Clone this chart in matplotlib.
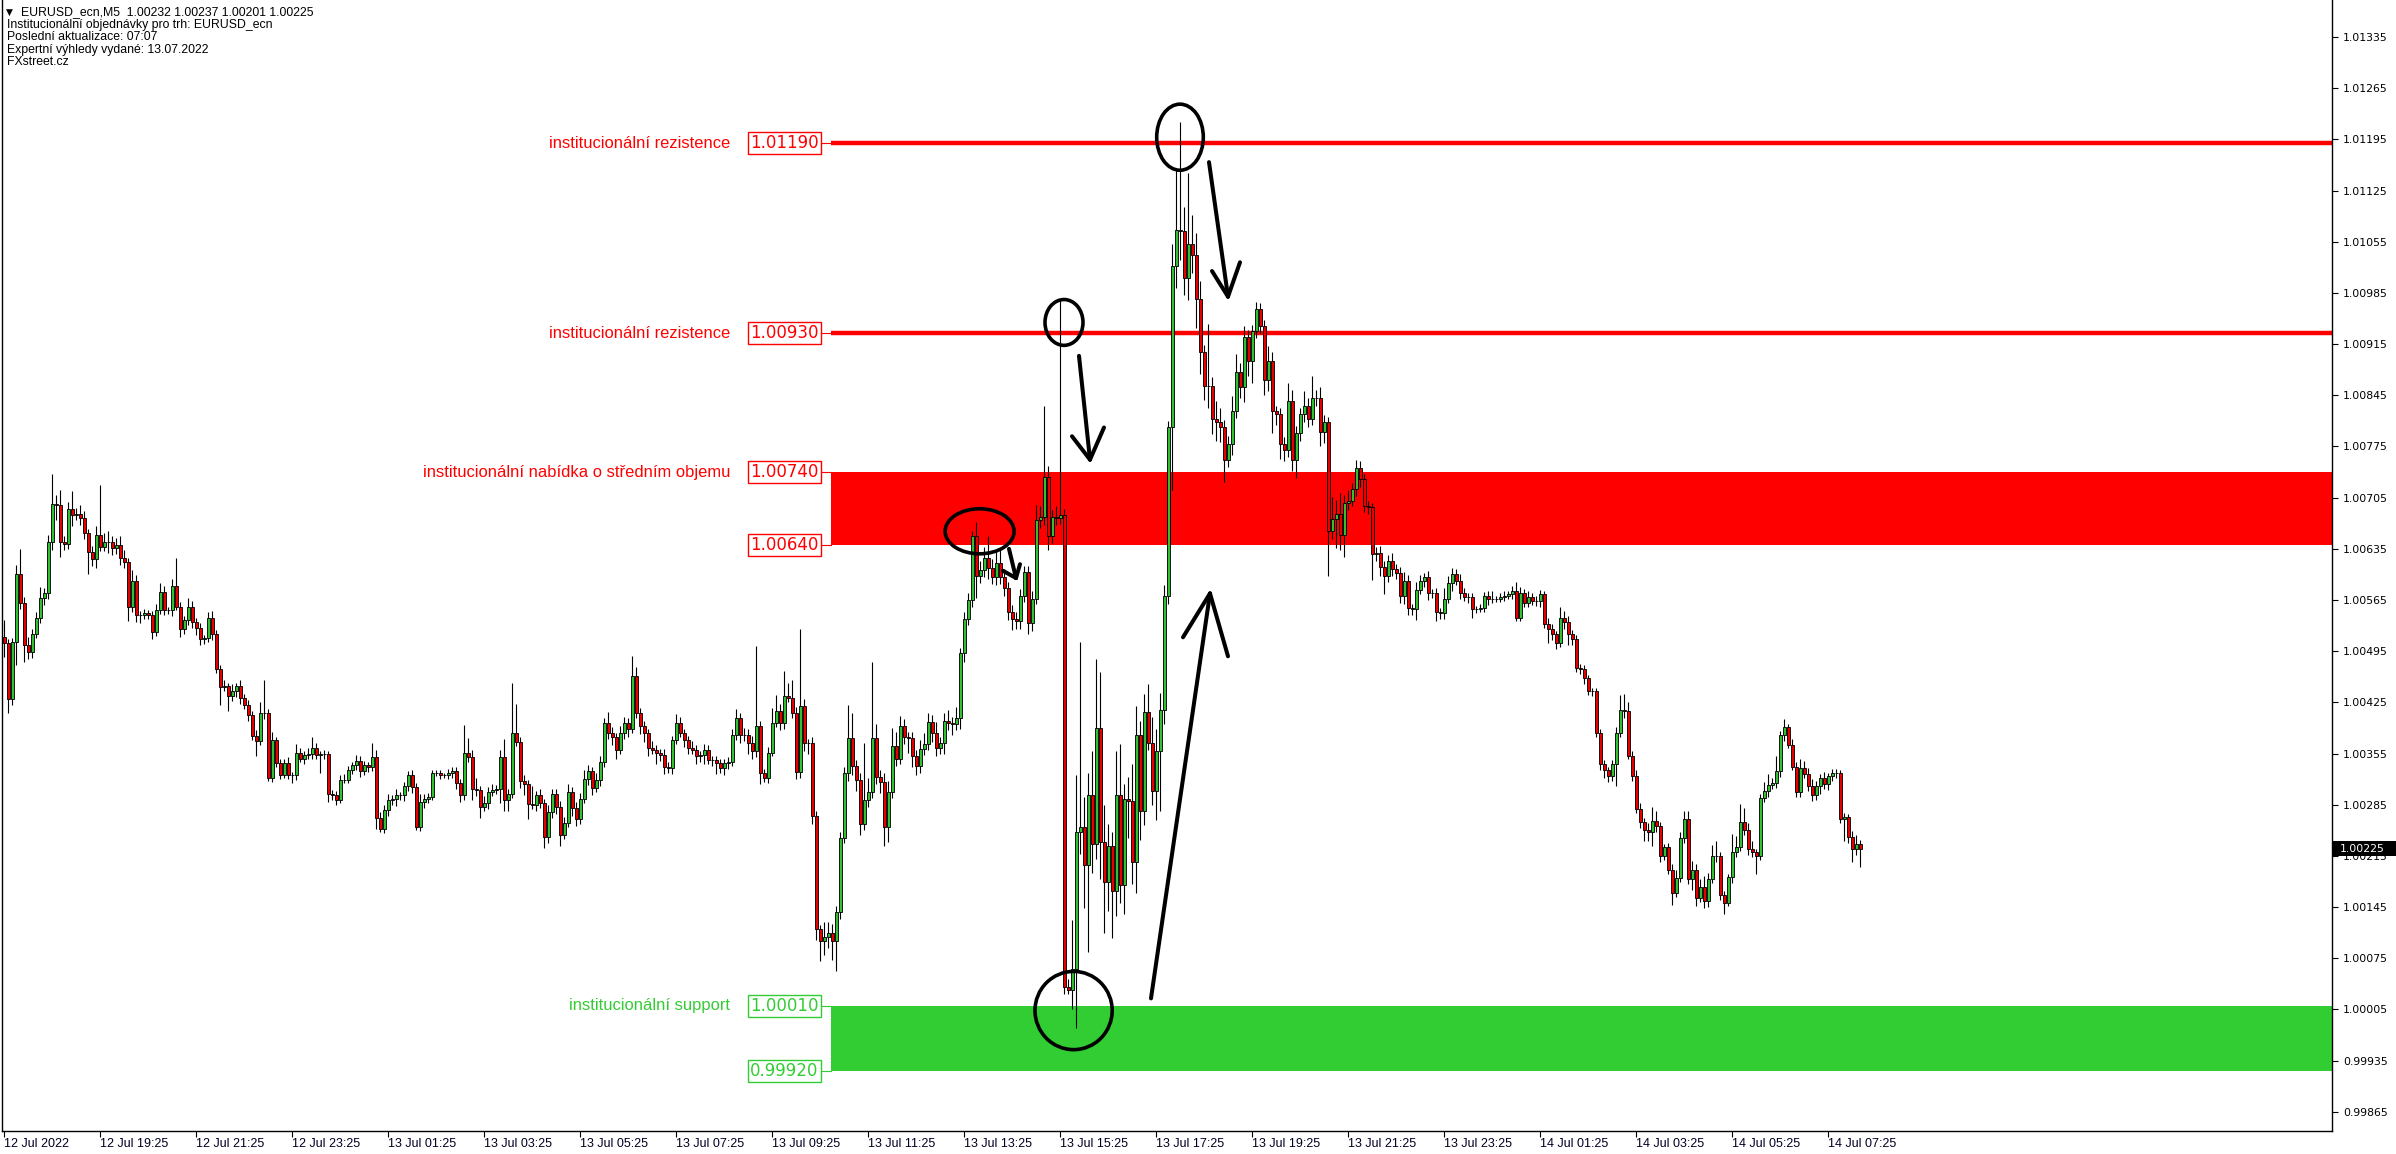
import matplotlib
matplotlib.use('Agg')
import matplotlib.pyplot as plt
import matplotlib.transforms as mtransforms
from matplotlib.patches import Ellipse, Rectangle
import numpy as np

# ---------------- data (prices in points = 1e-5 above 1.00000) ----------------
first_open = 515
close_pts = [
    506,430,507,601,561,504,494,519,540,568,575,644,696,695,644,641,689,681,683,677,656,631,621,654,638,
    644,645,636,640,623,617,556,591,545,545,547,544,521,552,576,551,551,584,556,526,537,556,535,527,511,
    513,540,518,470,446,447,433,440,447,431,422,408,379,372,411,410,322,373,342,326,342,325,325,356,348,
    353,354,363,353,354,354,300,298,292,319,319,332,339,345,331,339,336,350,267,252,278,291,293,298,298,
    310,325,309,255,289,293,296,328,328,325,325,328,331,314,298,356,350,307,305,282,287,303,305,307,350,
    292,299,383,371,318,313,286,284,298,287,241,275,300,282,243,260,303,280,266,293,320,331,308,319,344,
    397,383,377,360,383,397,388,461,411,392,383,362,360,356,353,337,335,374,397,383,374,362,360,351,353,
    360,346,346,342,335,342,344,380,404,380,380,369,358,392,328,322,356,397,413,397,433,431,411,330,420,
    369,369,269,115,99,104,110,98,138,240,328,376,338,319,258,292,302,376,323,316,254,302,365,348,392,
    378,376,352,338,361,368,398,383,362,370,399,397,395,404,492,539,565,652,598,606,623,609,597,616,597,
    582,548,539,536,570,603,533,567,675,678,733,653,678,677,681,35,32,60,247,255,203,298,231,390,234,
    179,228,167,298,175,293,290,206,380,277,412,370,304,359,415,570,802,1022,1071,1070,1006,1052,1037,977,904,
    858,858,812,808,801,757,778,824,877,856,925,892,933,963,940,866,892,824,819,778,770,837,757,793,819,
    831,812,841,842,795,808,659,676,682,654,698,701,717,745,730,693,692,628,629,610,598,619,608,602,571,
    591,554,553,579,591,596,575,574,548,547,567,588,601,591,574,569,569,553,553,554,570,566,566,567,569,
    571,573,578,541,575,561,569,563,564,573,532,526,518,506,540,535,519,511,472,470,458,440,440,383,341,
    333,324,340,383,415,413,352,324,279,261,250,247,262,256,215,227,196,164,185,240,266,183,196,157,172,
    153,183,215,215,161,151,186,220,227,261,250,224,220,215,294,304,312,314,331,380,391,367,337,302,335,
    327,310,298,310,322,313,324,328,329,265,268,241,224,231,225,
]
upper_wick = [
    23,5,6,12,34,8,10,6,8,15,6,10,41,12,20,8,10,25,8,12,10,6,8,12,68,
    12,15,8,10,12,10,6,15,8,5,6,4,6,8,12,8,4,10,38,6,6,12,8,5,6,
    4,8,10,6,6,8,5,10,5,8,5,6,5,8,15,45,6,12,5,6,6,8,5,12,6,
    5,8,15,6,5,6,4,5,6,6,8,6,5,8,6,6,5,20,10,8,6,8,5,8,4,
    6,6,8,6,10,6,5,5,4,5,4,6,5,6,6,38,20,10,15,5,10,6,8,5,10,
    25,8,68,40,6,8,6,25,6,8,6,10,6,6,8,8,10,6,8,8,12,8,6,10,8,
    6,15,8,6,10,8,6,28,12,6,8,6,10,6,5,8,6,5,12,8,6,5,10,6,5,
    8,6,5,5,6,5,6,8,12,6,10,8,10,110,8,6,8,20,22,10,35,18,25,8,105,
    10,6,8,8,6,20,15,12,8,8,8,45,35,8,10,77,20,104,20,10,12,15,25,20,15,
    10,6,8,8,12,15,12,10,15,8,12,15,8,15,8,10,10,8,20,12,15,30,12,15,20,
    10,8,10,10,10,8,8,10,20,15,97,15,10,15,294,8,12,67,78,252,40,30,60,94,76,
    50,30,20,60,70,20,30,50,40,20,25,38,35,30,23,15,8,30,85,148,32,97,40,30,25,
    10,84,12,25,20,10,12,20,25,12,15,10,8,10,8,8,20,12,6,8,10,25,15,10,8,
    20,10,31,10,15,10,8,30,20,30,10,15,8,12,10,8,8,6,8,10,8,8,10,6,8,
    12,8,6,10,8,6,8,5,8,6,15,10,8,6,10,8,6,5,4,5,6,8,12,4,5,
    6,5,6,12,8,5,8,5,6,6,5,8,6,5,15,10,8,5,6,5,6,5,4,5,6,
    5,4,6,8,20,22,12,6,8,8,6,10,20,15,5,4,6,8,10,8,10,10,12,8,12,
    15,8,15,20,5,6,4,25,15,25,20,10,12,5,6,12,15,8,20,6,11,5,8,6,12,
    10,8,10,8,5,8,5,6,5,4,6,4,8,12,6,
]
lower_wick = [
    19,20,8,31,8,24,10,8,6,6,10,8,10,20,20,8,6,15,6,10,8,30,10,12,6,
    6,15,10,8,10,8,20,8,10,12,6,5,10,5,6,6,5,8,5,12,8,6,8,10,8,
    6,5,8,5,25,6,20,6,8,8,6,8,6,20,6,8,5,6,5,6,5,5,10,6,5,
    8,5,6,5,25,6,12,6,8,5,4,5,5,6,8,5,6,5,15,5,6,8,6,10,6,
    8,6,8,5,6,8,6,5,4,5,4,5,6,8,10,6,6,15,8,15,6,8,6,5,20,
    15,15,5,6,10,15,20,5,8,6,15,8,8,10,15,5,6,10,10,8,6,8,10,6,8,
    8,8,10,12,6,8,10,5,8,10,12,10,6,15,8,10,6,8,6,6,10,8,6,10,8,
    12,6,8,15,6,10,8,6,6,10,8,15,10,8,15,6,8,5,6,10,8,6,8,10,8,
    10,15,10,15,28,20,15,25,41,10,8,10,12,15,15,8,10,8,10,15,26,20,8,10,8,
    10,20,15,12,10,8,8,12,10,8,15,10,15,8,15,12,8,10,30,10,10,15,10,12,10,
    12,10,15,10,10,8,15,10,8,12,10,20,10,10,8,9,6,27,81,30,60,119,40,20,50,
    70,40,65,34,24,40,50,30,42,40,20,10,20,40,82,20,10,86,30,40,24,30,25,40,30,
    20,30,20,25,20,30,10,15,10,15,20,20,30,10,10,20,15,30,15,20,15,10,15,25,10,
    10,10,8,10,20,15,61,10,40,20,30,10,8,10,10,8,10,35,10,12,25,8,10,8,10,
    12,10,8,15,6,8,10,6,12,8,8,6,10,6,8,5,8,12,6,5,6,8,5,4,5,
    5,4,6,5,5,6,5,5,6,8,5,20,8,8,5,10,15,8,5,6,8,5,6,5,8,
    12,8,6,30,5,10,5,6,5,8,15,12,18,8,8,6,6,16,5,6,8,6,15,10,5,
    10,8,5,8,6,16,4,8,6,5,6,8,6,25,5,6,8,5,6,8,8,5,5,6,6,
    6,6,8,6,10,6,8,6,6,5,30,8,18,8,25,
]
assert len(close_pts) == len(upper_wick) == len(lower_wick) == 465

xtick_bars = [0, 24, 48, 72, 96, 120, 144, 168, 192, 216, 240, 264, 288, 312, 336, 360, 384, 408, 432, 456]
xtick_labels = ['12 Jul 2022', '12 Jul 19:25', '12 Jul 21:25', '12 Jul 23:25', '13 Jul 01:25',
                '13 Jul 03:25', '13 Jul 05:25', '13 Jul 07:25', '13 Jul 09:25', '13 Jul 11:25',
                '13 Jul 13:25', '13 Jul 15:25', '13 Jul 17:25', '13 Jul 19:25', '13 Jul 21:25',
                '13 Jul 23:25', '14 Jul 01:25', '14 Jul 03:25', '14 Jul 05:25', '14 Jul 07:25']
ytick_labels = ['0.99865', '0.99935', '1.00005', '1.00075', '1.00145', '1.00215', '1.00285',
                '1.00355', '1.00425', '1.00495', '1.00565', '1.00635', '1.00705', '1.00775',
                '1.00845', '1.00915', '1.00985', '1.01055', '1.01125', '1.01195', '1.01265', '1.01335']

resistance_levels = [1.01190, 1.00930]
supply_zone = (1.00640, 1.00740)
demand_zone = (0.99920, 1.00010)
last_price = 1.00225

header_lines = ['Institucionální objednávky pro trh: EURUSD_ecn',
                'Poslední aktualizace: 07:07',
                'Expertní výhledy vydané: 13.07.2022',
                'FXstreet.cz']
header_title = 'EURUSD_ecn,M5  1.00232 1.00237 1.00201 1.00225'

# ---------------- styling ----------------
BULL = '#32C032'
BEAR = '#E80000'
RED = '#FF0000'
GREEN = '#32CD32'

W, H = 2396, 1154
fig = plt.figure(figsize=(W / 100, H / 100), dpi=100)
fig.patch.set_facecolor('white')
ax = fig.add_axes([2 / W, (H - 1131) / H, 2330 / W, 1131 / H])
ax.set_facecolor('white')
X_MAX = 582.0
ax.set_xlim(-0.5, X_MAX)
ax.set_ylim(0.998386, 1.013858)

# candles
c = np.array(close_pts, dtype=float)
o = np.concatenate([[first_open], c[:-1]])
top = np.maximum(o, c)
bot = np.minimum(o, c)
hi = top + np.array(upper_wick)
lo = bot - np.array(lower_wick)
x = np.arange(len(c))
P = lambda v: 1.0 + np.asarray(v) / 1e5
ax.vlines(x, P(lo), P(hi), color='black', lw=0.8, zorder=3)
cols = [BULL if cc > oo else (BEAR if cc < oo else 'black') for oo, cc in zip(o, c)]
ax.bar(x, (top - bot) / 1e5, bottom=P(bot), width=0.75, color=cols,
       edgecolor='black', linewidth=0.62, zorder=4)

# zones and levels
zone_start = 206.75
ax.add_patch(Rectangle((zone_start, supply_zone[0]), X_MAX - zone_start,
                       supply_zone[1] - supply_zone[0], fc=RED, ec='none', zorder=1))
ax.add_patch(Rectangle((zone_start, demand_zone[0]), X_MAX - zone_start,
                       demand_zone[1] - demand_zone[0], fc=GREEN, ec='none', zorder=1))
for lv in resistance_levels:
    ax.hlines(lv, zone_start, X_MAX, color=RED, lw=3.2, zorder=2)

def price_box(price, color):
    ax.text(195.1, price, f'{price:.5f}', color=color, fontsize=12, family='DejaVu Sans',
            ha='center', va='center', zorder=7,
            bbox=dict(boxstyle='square,pad=0.12', fc='white', ec=color, lw=1.0))
    ax.plot([204.3, zone_start], [price, price], color=color, lw=0.8, zorder=6)

def level_text(price, s, color):
    ax.text(181.5, price, s, color=color, fontsize=11.9, family='Liberation Sans',
            ha='right', va='center', zorder=7)

level_text(resistance_levels[0], 'institucionální rezistence', RED)
price_box(resistance_levels[0], RED)
level_text(resistance_levels[1], 'institucionální rezistence', RED)
price_box(resistance_levels[1], RED)
level_text(supply_zone[1], 'institucionální nabídka o středním objemu', RED)
price_box(supply_zone[1], RED)
price_box(supply_zone[0], RED)
level_text(demand_zone[1], 'institucionální support', GREEN)
price_box(demand_zone[1], GREEN)
price_box(demand_zone[0], GREEN)

# hand-drawn annotations (bar index, price)
ellipses = [(294.0, 1.011981, 11.65, 0.000904),
            (265.0, 1.009447, 9.5, 0.000627),
            (243.9, 1.006590, 17.25, 0.000616),
            (267.4, 1.000034, 19.3, 0.001070)]
for cx, cy, ew, eh in ellipses:
    ax.add_patch(Ellipse((cx, cy), ew, eh, fill=False, ec='black', lw=2.6, zorder=8))

arrows = [((301.25, 1.01164), (306.0, 1.00980), (302.0, 1.01015), (309.0, 1.01027)),
          ((268.75, 1.00899), (271.5, 1.00757), (267.0, 1.00789), (275.0, 1.00801)),
          ((251.25, 1.00635), (253.0, 1.00595), (249.75, 1.00605), (254.0, 1.00614)),
          ((286.75, 1.00020), (301.5, 1.00574), (294.75, 1.00514), (306.0, 1.00488))]
for s, t, a1, a2 in arrows:
    for p0 in (s, a1, a2):
        ax.plot([p0[0], t[0]], [p0[1], t[1]], color='black', lw=2.9,
                solid_capstyle='round', zorder=8)

# axes styling
ax.spines['top'].set_visible(False)
for sp in ['left', 'right', 'bottom']:
    ax.spines[sp].set_color('black')
    ax.spines[sp].set_linewidth(1.0)

ax.yaxis.tick_right()
ax.set_yticks([float(v) for v in ytick_labels])
ax.set_yticklabels(ytick_labels, fontsize=7.8, family='DejaVu Sans', color='black')
ax.tick_params(axis='y', direction='out', length=4, width=0.8, pad=4, right=True, left=False)

ax.set_xticks(xtick_bars)
ax.set_xticklabels(xtick_labels, fontsize=9, family='Liberation Sans', color='#000020', ha='left')
ax.tick_params(axis='x', direction='out', length=4, width=0.8, pad=1)

# current price marker on the price scale
trans = mtransforms.blended_transform_factory(ax.transAxes, ax.transData)
dh = 7.5 / 73100
ax.add_patch(Rectangle((1.0, last_price - dh), 66 / 2330, 2 * dh, transform=trans,
                       fc='black', ec='none', clip_on=False, zorder=10))
ax.text(1.0 + 8 / 2330, last_price, f'{last_price:.5f}', transform=trans, color='white',
        fontsize=7.8, family='DejaVu Sans', ha='left', va='center', zorder=11, clip_on=False)

# header text
fig.text(6 / W, 1 - 12.5 / H, '▼', fontsize=6.5, family='DejaVu Sans', ha='left', va='center')
fig.text(21 / W, 1 - 12.5 / H, header_title, fontsize=8.8, family='Liberation Sans',
         ha='left', va='center')
for k, line in enumerate(header_lines):
    fig.text(7 / W, 1 - (25 + 12.3 * k) / H, line, fontsize=8.8, family='Liberation Sans',
             ha='left', va='center')

fig.savefig('out.png', dpi=100, facecolor='white')
